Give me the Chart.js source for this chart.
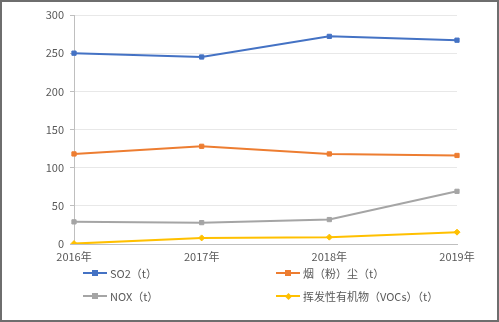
<!DOCTYPE html>
<html>
<head>
<meta charset="utf-8">
<script src="https://cdn.jsdelivr.net/npm/chart.js@4/dist/chart.umd.min.js"></script>
<style>
  body { margin: 0; background: #fff; }
  #wrap { position: relative; width: 499px; height: 322px; }
  #frame { position: absolute; left: 0; top: 0; width: 495px; height: 318px; border: 2px solid #6e6e6e; pointer-events: none; }
  .leg { position: absolute; font: 11px "Noto Sans CJK SC", sans-serif; color: #595959; display: flex; align-items: center; white-space: nowrap; }
  .leg i { display: inline-block; position: relative; width: 24px; height: 2px; margin-right: 3px; }
  .leg i b { position: absolute; left: 9px; top: -2px; width: 6px; height: 6px; }
</style>
</head>
<body>
<div id="wrap">
  <canvas id="chart" width="499" height="322"></canvas>
  <div id="legend"></div>
  <div id="frame"></div>
</div>
<script>
const years = ["2016年", "2017年", "2018年", "2019年"];
const so2 = [250, 245, 272, 267];
const dust = [118, 128, 118, 116];
const nox = [29, 28, 32, 69];
const vocs = [0.5, 8, 9, 15.5];

const names = ["SO2（t）", "烟（粉）尘（t）", "NOX（t）", "挥发性有机物（VOCs）（t）"];
const colors = ["#4472C4", "#ED7D31", "#A5A5A5", "#FFC000"];
const shapes = ["rect", "rect", "rect", "rectRot"];
const series = [so2, dust, nox, vocs];

const datasets = series.map((vals, i) => ({
    label: names[i],
    data: vals,
    borderColor: colors[i],
    backgroundColor: colors[i],
    borderWidth: 2,
    pointStyle: shapes[i],
    pointRadius: 3,
    pointBorderWidth: 1,
    tension: 0
}));

const tickFont = { family: "'Noto Sans CJK SC', sans-serif", size: 11 };

new Chart(document.getElementById("chart").getContext("2d"), {
    type: "line",
    data: { labels: years, datasets: datasets },
    options: {
        responsive: false,
        animation: false,
        layout: { padding: { left: 0, right: 42, top: 15, bottom: 0 } },
        plugins: { legend: { display: false }, tooltip: { enabled: false } },
        scales: {
            x: {
                grid: { display: false, drawTicks: false },
                border: { color: "#bfbfbf", width: 1 },
                ticks: { color: "#595959", font: tickFont, padding: 6, maxRotation: 0 },
                afterFit: s => { s.height = 78; }
            },
            y: {
                min: 0,
                max: 300,
                grid: { color: "#e8e8e8", tickLength: 4, tickColor: "#bfbfbf" },
                border: { color: "#bfbfbf", width: 1 },
                ticks: { stepSize: 50, color: "#595959", font: tickFont, padding: 6 },
                afterFit: s => { s.width = 74; }
            }
        }
    }
});

// legend laid out in two columns like the original
const legPos = [[83, 273], [276, 273], [83, 296], [276, 296]];
const legend = document.getElementById("legend");
names.forEach((n, i) => {
    const d = document.createElement("div");
    d.className = "leg";
    d.style.left = legPos[i][0] + "px";
    d.style.top = (legPos[i][1] - 8) + "px";
    const rot = shapes[i] === "rectRot" ? "transform:rotate(45deg);width:5px;height:5px;left:9.5px;top:-1.5px;" : "";
    d.innerHTML = '<i style="background:' + colors[i] + '"><b style="background:' + colors[i] + ';' + rot + '"></b></i>' + n;
    legend.appendChild(d);
});
</script>
</body>
</html>
